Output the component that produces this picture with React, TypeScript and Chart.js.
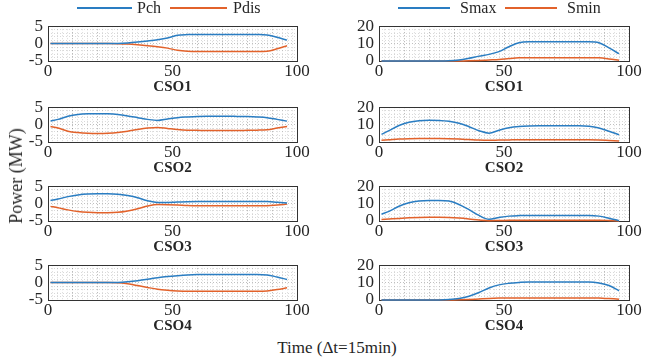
import React, { useEffect, useRef } from "react";
import { Chart, registerables } from "chart.js";
Chart.register(...registerables);

// time steps (Δt = 15 min)
const T = [1, 4, 8, 12, 16, 20, 24, 28, 32, 36, 40, 44, 48, 52, 56, 60, 64, 68, 72, 76, 80, 84, 88, 92, 96];

const cso1Pch = [0, 0, 0, 0, 0, 0, 0, 0.05, 0.2, 0.45, 0.75, 1.1, 1.6, 2.4, 2.6, 2.65, 2.65, 2.65, 2.65, 2.65, 2.65, 2.6, 2.5, 1.8, 1.0];
const cso1Pdis = [0, 0, 0, 0, 0, 0, 0, -0.05, -0.15, -0.35, -0.6, -0.9, -1.3, -1.9, -2.2, -2.3, -2.3, -2.3, -2.3, -2.3, -2.3, -2.3, -2.2, -1.5, -0.6];
const cso1Smax = [0, 0, 0, 0, 0, 0, 0, 0.1, 0.6, 1.6, 2.8, 3.8, 5.4, 8.2, 10.5, 11.0, 11.0, 11.0, 11.0, 11.0, 11.0, 11.0, 10.5, 7.5, 4.2];
const cso1Smin = [0, 0, 0, 0, 0, 0, 0, 0, 0, 0.1, 0.3, 0.6, 0.9, 1.4, 1.8, 1.9, 1.9, 1.9, 1.9, 1.9, 1.9, 1.9, 1.8, 1.2, 0.4];

const cso2Pch = [1.0, 1.5, 2.4, 2.9, 3.1, 3.15, 3.1, 2.9, 2.5, 2.0, 1.5, 1.2, 1.6, 2.0, 2.2, 2.35, 2.4, 2.4, 2.4, 2.35, 2.3, 2.2, 2.0, 1.5, 1.0];
const cso2Pdis = [-0.55, -1.0, -1.9, -2.3, -2.5, -2.55, -2.5, -2.3, -1.9, -1.4, -1.0, -0.8, -1.1, -1.4, -1.6, -1.65, -1.7, -1.7, -1.7, -1.7, -1.65, -1.6, -1.45, -1.0, -0.55];
const cso2Smax = [4.4, 6.5, 9.5, 11.3, 12.2, 12.5, 12.4, 11.9, 10.8, 8.8, 6.5, 5.1, 6.8, 8.2, 8.9, 9.2, 9.3, 9.3, 9.3, 9.3, 9.3, 9.0, 8.0, 6.2, 4.2];
const cso2Smin = [1.0, 1.3, 1.7, 1.9, 2.0, 2.0, 2.0, 1.9, 1.7, 1.4, 1.1, 1.0, 1.1, 1.2, 1.3, 1.3, 1.3, 1.3, 1.3, 1.3, 1.3, 1.3, 1.2, 0.9, 0.6];

const cso3Pch = [0.9, 1.3, 2.0, 2.5, 2.75, 2.8, 2.8, 2.7, 2.3, 1.7, 0.8, 0.3, 0.35, 0.45, 0.55, 0.6, 0.6, 0.6, 0.6, 0.6, 0.6, 0.6, 0.6, 0.4, 0.2];
const cso3Pdis = [-0.8, -1.2, -1.8, -2.25, -2.5, -2.6, -2.6, -2.5, -2.1, -1.5, -0.7, -0.25, -0.3, -0.4, -0.55, -0.6, -0.6, -0.6, -0.6, -0.6, -0.6, -0.6, -0.6, -0.4, -0.15];
const cso3Smax = [3.9, 5.5, 8.5, 10.5, 11.5, 11.8, 11.8, 11.5, 9.5, 6.5, 3.2, 1.0, 2.0, 2.8, 3.1, 3.2, 3.2, 3.2, 3.2, 3.2, 3.2, 3.2, 2.8, 1.6, 0.2];
const cso3Smin = [0.8, 1.1, 1.5, 1.8, 2.0, 2.1, 2.1, 2.0, 1.7, 1.2, 0.6, 0.2, 0.3, 0.4, 0.5, 0.5, 0.5, 0.5, 0.5, 0.5, 0.5, 0.5, 0.5, 0.3, 0.0];

const cso4Pch = [0, 0, 0, 0, 0, 0, 0, 0.05, 0.25, 0.55, 0.95, 1.4, 1.75, 2.0, 2.2, 2.3, 2.3, 2.3, 2.3, 2.3, 2.3, 2.3, 2.2, 1.6, 0.9];
const cso4Pdis = [0, 0, 0, 0, 0, 0, 0, -0.05, -0.35, -0.85, -1.4, -1.9, -2.2, -2.4, -2.5, -2.5, -2.5, -2.5, -2.5, -2.5, -2.5, -2.5, -2.4, -2.0, -1.5];
const cso4Smax = [0, 0, 0, 0, 0, 0, 0.05, 0.3, 0.9, 2.2, 4.3, 6.9, 8.7, 9.6, 10.1, 10.4, 10.4, 10.4, 10.4, 10.4, 10.4, 10.4, 9.8, 8.3, 5.3];
const cso4Smin = [0, 0, 0, 0, 0, 0, 0, 0, 0.1, 0.3, 0.6, 0.9, 1.1, 1.2, 1.2, 1.2, 1.2, 1.2, 1.2, 1.2, 1.2, 1.2, 1.1, 0.8, 0.5];

const titles = ["CSO1", "CSO2", "CSO3", "CSO4"];
const powerSeries = [
  [cso1Pch, cso1Pdis],
  [cso2Pch, cso2Pdis],
  [cso3Pch, cso3Pdis],
  [cso4Pch, cso4Pdis],
];
const socSeries = [
  [cso1Smax, cso1Smin],
  [cso2Smax, cso2Smin],
  [cso3Smax, cso3Smin],
  [cso4Smax, cso4Smin],
];
const xTickLabels = [0, 50, 100];
const powerTickLabels = [-5, 0, 5];
const socTickLabels = [0, 10, 20];

const BLUE = "#2a7dc2";
const ORANGE = "#e2622b";
const SERIF = '"Liberation Serif", "Times New Roman", serif';
const ROW_TOPS = [23, 104, 183, 262];
const PAD_TOP = 12;
const PLOT_H = 38;
const XAXIS_H = 35;

const boxPlugin = {
  id: "box",
  beforeDatasetsDraw(chart: any) {
    const { ctx, chartArea } = chart;
    const l = Math.round(chartArea.left) + 0.5;
    const t = Math.round(chartArea.top) + 0.5;
    const w = Math.round(chartArea.right) - Math.round(chartArea.left);
    const h = Math.round(chartArea.bottom) - Math.round(chartArea.top);
    ctx.save();
    ctx.strokeStyle = "#333333";
    ctx.lineWidth = 1;
    ctx.setLineDash([]);
    ctx.strokeRect(l, t, w, h);
    ctx.restore();
  },
};

type SubProps = {
  left: number;
  top: number;
  width: number;
  yWidth: number;
  padRight: number;
  series: number[][];
  yMin: number;
  yMax: number;
  yStep: number;
  yMajor: number;
  yLabels: number[];
  title: string;
};

function SubPlot(p: SubProps) {
  const ref = useRef<HTMLCanvasElement | null>(null);
  const height = PAD_TOP + PLOT_H + XAXIS_H;
  useEffect(() => {
    if (!ref.current) return;
    const colors = [BLUE, ORANGE];
    const chart = new Chart(ref.current, {
      type: "line",
      data: {
        datasets: p.series.map((vals, k) => ({
          data: T.map((t, i) => ({ x: t, y: vals[i] })),
          borderColor: colors[k],
          backgroundColor: colors[k],
          borderWidth: 1.5,
          pointRadius: 0,
          cubicInterpolationMode: "monotone" as const,
          clip: false as any,
        })),
      },
      options: {
        responsive: false,
        animation: false,
        layout: { padding: { top: PAD_TOP, right: p.padRight, left: 0, bottom: 0 } },
        plugins: { legend: { display: false }, tooltip: { enabled: false } },
        scales: {
          x: {
            type: "linear",
            min: 0,
            max: 100,
            afterFit: (s: any) => {
              s.height = XAXIS_H;
            },
            ticks: {
              stepSize: 2,
              autoSkip: false,
              maxRotation: 0,
              padding: 0,
              color: "#262626",
              font: { family: SERIF, size: 17 },
              callback: (v: any) => (xTickLabels.includes(Number(v)) ? String(v) : ""),
            },
            grid: {
              drawTicks: false,
              lineWidth: 1,
              color: (c: any) =>
                c.tick && c.tick.value % 10 === 0 ? "rgba(0,0,0,0.32)" : "rgba(0,0,0,0.15)",
            },
            border: { display: false, dash: [1, 2] },
            title: {
              display: true,
              text: p.title,
              color: "#262626",
              padding: { top: 0, bottom: 0 },
              font: { family: SERIF, size: 15, weight: "bold" },
            },
          },
          y: {
            type: "linear",
            min: p.yMin,
            max: p.yMax,
            afterFit: (s: any) => {
              s.width = p.yWidth;
            },
            ticks: {
              stepSize: p.yStep,
              autoSkip: false,
              padding: 5,
              color: "#262626",
              font: { family: SERIF, size: 17 },
              callback: (v: any) => (p.yLabels.includes(Number(v)) ? String(v) : ""),
            },
            grid: {
              drawTicks: false,
              lineWidth: 1,
              color: (c: any) =>
                c.tick && c.tick.value % p.yMajor === 0 ? "rgba(0,0,0,0.25)" : "rgba(0,0,0,0.15)",
            },
            border: { display: false, dash: [1, 2] },
          },
        },
      },
      plugins: [boxPlugin],
    });
    return () => chart.destroy();
  }, []);
  return (
    <canvas
      ref={ref}
      width={p.width}
      height={height}
      style={{ position: "absolute", left: p.left, top: p.top, width: p.width, height }}
    />
  );
}

function LegendItem({ x1, x2, tx, label, color }: { x1: number; x2: number; tx: number; label: string; color: string }) {
  return (
    <>
      <div style={{ position: "absolute", left: x1, top: 7, width: x2 - x1, height: 2, background: color }} />
      <div
        style={{
          position: "absolute",
          left: tx,
          top: 0,
          lineHeight: "16px",
          fontSize: 16,
          fontFamily: SERIF,
          color: "#262626",
          whiteSpace: "nowrap",
        }}
      >
        {label}
      </div>
    </>
  );
}

export default function App() {
  return (
    <div
      style={{
        position: "absolute",
        left: 0,
        top: 0,
        width: 645,
        height: 363,
        background: "#ffffff",
        overflow: "hidden",
      }}
    >
      {titles.map((t, r) => (
        <SubPlot
          key={"p" + r}
          left={0}
          top={ROW_TOPS[r] - PAD_TOP}
          width={315}
          yWidth={48}
          padRight={18}
          series={powerSeries[r]}
          yMin={-5}
          yMax={5}
          yStep={1}
          yMajor={5}
          yLabels={powerTickLabels}
          title={t}
        />
      ))}
      {titles.map((t, r) => (
        <SubPlot
          key={"s" + r}
          left={330}
          top={ROW_TOPS[r] - PAD_TOP}
          width={315}
          yWidth={49}
          padRight={16}
          series={socSeries[r]}
          yMin={0}
          yMax={20}
          yStep={2}
          yMajor={10}
          yLabels={socTickLabels}
          title={t}
        />
      ))}
      <LegendItem x1={77} x2={132} tx={137} label="Pch" color={BLUE} />
      <LegendItem x1={170} x2={227} tx={233} label="Pdis" color={ORANGE} />
      <LegendItem x1={398} x2={450} tx={460} label="Smax" color={BLUE} />
      <LegendItem x1={505} x2={557} tx={567} label="Smin" color={ORANGE} />
      <div
        style={{
          position: "absolute",
          left: 16,
          top: 176,
          transform: "translate(-50%, -50%) rotate(-90deg)",
          fontFamily: SERIF,
          fontSize: 18,
          lineHeight: "20px",
          color: "#262626",
          whiteSpace: "nowrap",
        }}
      >
        Power (MW)
      </div>
      <div
        style={{
          position: "absolute",
          left: 337,
          top: 348,
          transform: "translate(-50%, -50%)",
          fontFamily: SERIF,
          fontSize: 17,
          lineHeight: "20px",
          color: "#262626",
          whiteSpace: "nowrap",
        }}
      >
        Time (Δt=15min)
      </div>
    </div>
  );
}
